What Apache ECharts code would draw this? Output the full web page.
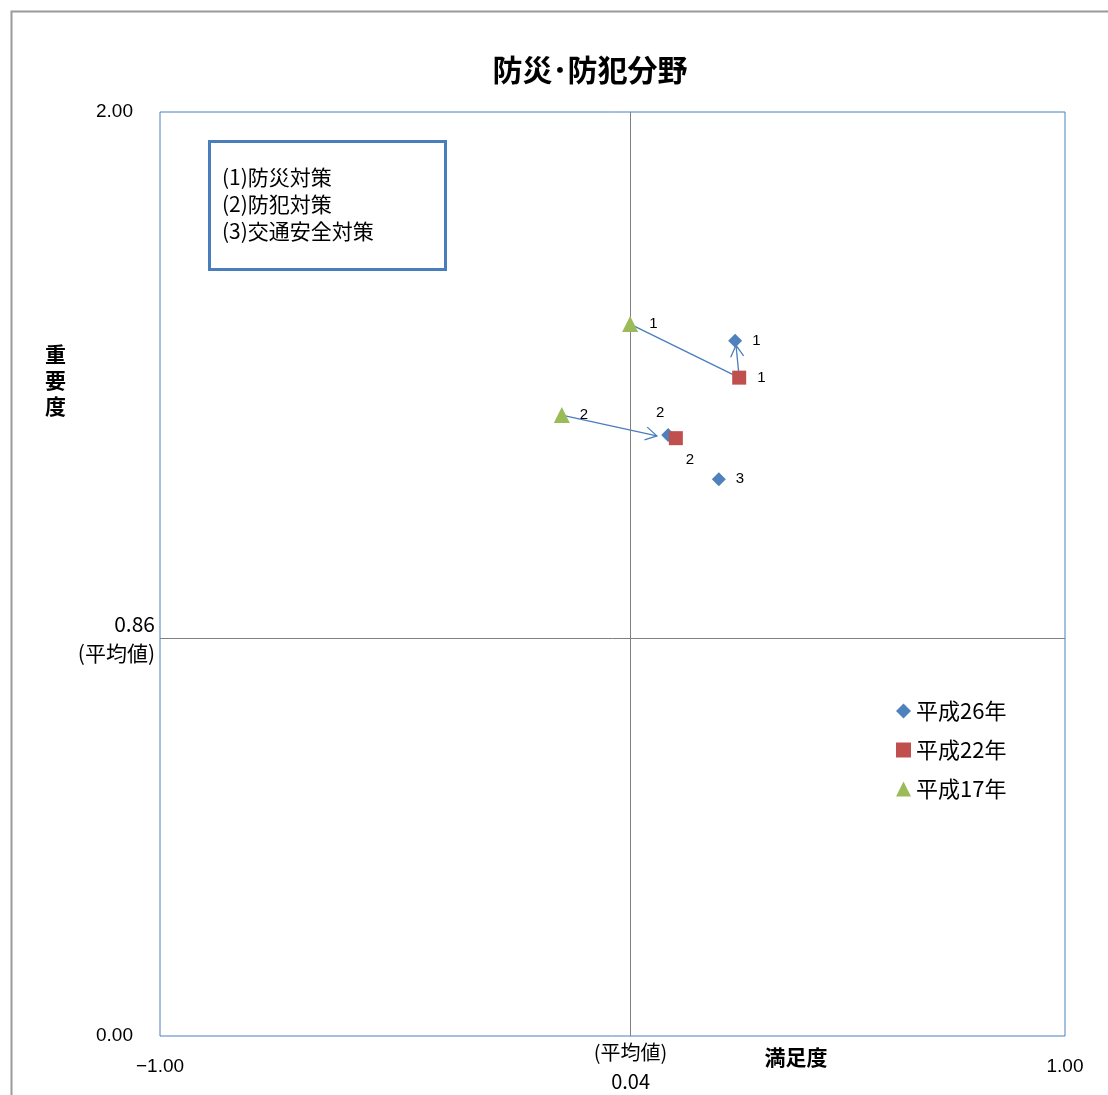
<!DOCTYPE html>
<html>
<head>
<meta charset="utf-8">
<script src="https://cdn.jsdelivr.net/npm/echarts@6/dist/echarts.min.js"></script>
<style>html,body{margin:0;padding:0;background:#fff;}#c{width:1108px;height:1095px;}</style>
</head>
<body>
<div id="c"></div>
<script>
// ---- data ----
var seriesNames = ['平成26年', '平成22年', '平成17年'];
var pointLabels = ['1', '2', '3'];
var h26 = [[0.271, 1.505], [0.123, 1.301], [0.235, 1.205]];
var h22 = [[0.280, 1.425], [0.140, 1.294]];
var h17 = [[0.039, 1.541], [-0.112, 1.344]];
// arrows: [x1, y1, x2, y2, arrowHead(1/0)]
var arrows = [
  [0.039, 1.541, 0.280, 1.425, 0],
  [0.280, 1.425, 0.273, 1.495, 1],
  [-0.112, 1.344, 0.098, 1.299, 1]
];
var meanX = 0.04, meanY = 0.86;
var xMin = -1, xMax = 1, yMin = 0, yMax = 2;
var noteLines = ['(1)防災対策', '(2)防犯対策', '(3)交通安全対策'];

// ---- styles ----
var colors = ['#4f81bd', '#c0504d', '#9bbb59'];
var symbols = ['diamond', 'rect', 'triangle'];
var sizes = [14, 14, 16];
var labelCfg = [
  [{position: 'right', distance: 10}, {position: 'inside', offset: [-8, -22]}, {position: 'right', distance: 10}],
  [{position: 'right', distance: 11}, {position: 'inside', offset: [14, 22]}],
  [{position: 'right', distance: 11}, {position: 'right', distance: 10}]
];
var cjk = '"Noto Sans CJK JP", "Noto Sans", sans-serif';

function build(arr, si) {
  return arr.map(function (p, i) {
    var lc = labelCfg[si][i] || {position: 'right'};
    return {
      value: p,
      label: Object.assign({show: true, formatter: pointLabels[i], color: '#000', fontSize: 15, fontFamily: 'Liberation Sans'}, lc)
    };
  });
}

var allSets = [h26, h22, h17];
var series = allSets.map(function (arr, si) {
  return {
    name: seriesNames[si],
    type: 'scatter',
    symbol: symbols[si],
    symbolSize: sizes[si],
    itemStyle: {color: colors[si], opacity: 1},
    data: build(arr, si),
    z: 5
  };
});

series.push({
  type: 'custom',
  name: 'arrows',
  z: 3,
  silent: true,
  data: arrows,
  encode: {x: [0, 2], y: [1, 3]},
  renderItem: function (params, api) {
    var s = api.coord([api.value(0), api.value(1)]);
    var e = api.coord([api.value(2), api.value(3)]);
    var children = [{
      type: 'line',
      shape: {x1: s[0], y1: s[1], x2: e[0], y2: e[1]},
      style: {stroke: '#4a7ebb', lineWidth: 1.3}
    }];
    if (api.value(4)) {
      var ang = Math.atan2(e[1] - s[1], e[0] - s[0]);
      var L = 13, a = Math.PI / 6;
      var p1 = [e[0] - L * Math.cos(ang - a), e[1] - L * Math.sin(ang - a)];
      var p2 = [e[0] - L * Math.cos(ang + a), e[1] - L * Math.sin(ang + a)];
      children.push({
        type: 'polyline',
        shape: {points: [p1, e, p2]},
        style: {stroke: '#4a7ebb', lineWidth: 1.3, fill: 'none'}
      });
    }
    return {type: 'group', children: children};
  }
});

// mean lines
series.push({
  type: 'scatter',
  name: 'mean',
  data: [],
  silent: true,
  markLine: {
    silent: true,
    symbol: 'none',
    animation: false,
    lineStyle: {color: '#808080', width: 1, type: 'solid'},
    data: [
      {yAxis: meanY, label: {show: true, position: 'start', distance: 5, formatter: meanY.toFixed(2) + '\n(平均値)', color: '#000', fontSize: 21, lineHeight: 29, fontFamily: cjk, align: 'right', padding: [0, 0, 4, 0]}},
      {xAxis: meanX, label: {show: true, position: 'start', distance: 2, formatter: '(平均値)\n' + meanX.toFixed(2), color: '#000', fontSize: 20, lineHeight: 29, fontFamily: cjk}}
    ]
  }
});

var chart = echarts.init(document.getElementById('c'), null, {renderer: 'canvas'});
chart.setOption({
  animation: false,
  backgroundColor: '#fff',
  title: {
    text: '防災･防犯分野',
    left: 585, top: 50, textAlign: 'center',
    textStyle: {fontFamily: cjk, fontWeight: 'bold', fontSize: 30, color: '#000'}
  },
  grid: {
    left: 160, top: 112, width: 905, height: 924,
    show: true, borderColor: '#4a7ebb', borderWidth: 1, backgroundColor: 'transparent'
  },
  legend: {
    data: seriesNames.map(function (n, i) { return {name: n, icon: symbols[i], itemStyle: {opacity: 1}}; }),
    orient: 'vertical',
    left: 891, top: 695,
    itemWidth: 15, itemHeight: 15, itemGap: 17,
    textStyle: {fontFamily: cjk, fontSize: 22, color: '#000'},
    selectedMode: false
  },
  xAxis: {
    type: 'value', min: xMin, max: xMax, interval: 2,
    axisLine: {show: false}, axisTick: {show: false}, splitLine: {show: false},
    axisLabel: {margin: 21, fontSize: 19, color: '#000', fontFamily: 'Liberation Sans', formatter: function (v) { return (v < 0 ? '−' : '') + Math.abs(v).toFixed(2); }}
  },
  yAxis: {
    type: 'value', min: yMin, max: yMax, interval: 2,
    axisLine: {show: false}, axisTick: {show: false}, splitLine: {show: false},
    axisLabel: {margin: 27, fontSize: 19, color: '#000', fontFamily: 'Liberation Sans', formatter: function (v) { return v.toFixed(2); }}
  },
  graphic: [
    {type: 'rect', left: 9, top: 9, shape: {width: 1300, height: 1300}, style: {fill: 'none', stroke: '#9a9a9a', lineWidth: 2}, z: -1},
    {type: 'rect', left: 208, top: 140, shape: {width: 236, height: 128}, style: {fill: '#fff', stroke: '#4a7ebb', lineWidth: 3}, z: 10},
    {type: 'text', left: 222, top: 164, style: {text: noteLines.join('\n'), fontFamily: cjk, fontSize: 21, lineHeight: 27, fill: '#000'}, z: 11},
    {type: 'text', x: 796, y: 1057, style: {text: '満足度', fontFamily: cjk, fontWeight: 'bold', fontSize: 21, fill: '#000', align: 'center', verticalAlign: 'middle'}, z: 11},
    {type: 'text', left: 45, top: 341, style: {text: '重\n要\n度', fontFamily: cjk, fontWeight: 'bold', fontSize: 21, lineHeight: 26, fill: '#000'}, z: 11}
  ],
  series: series
});
</script>
</body>
</html>
